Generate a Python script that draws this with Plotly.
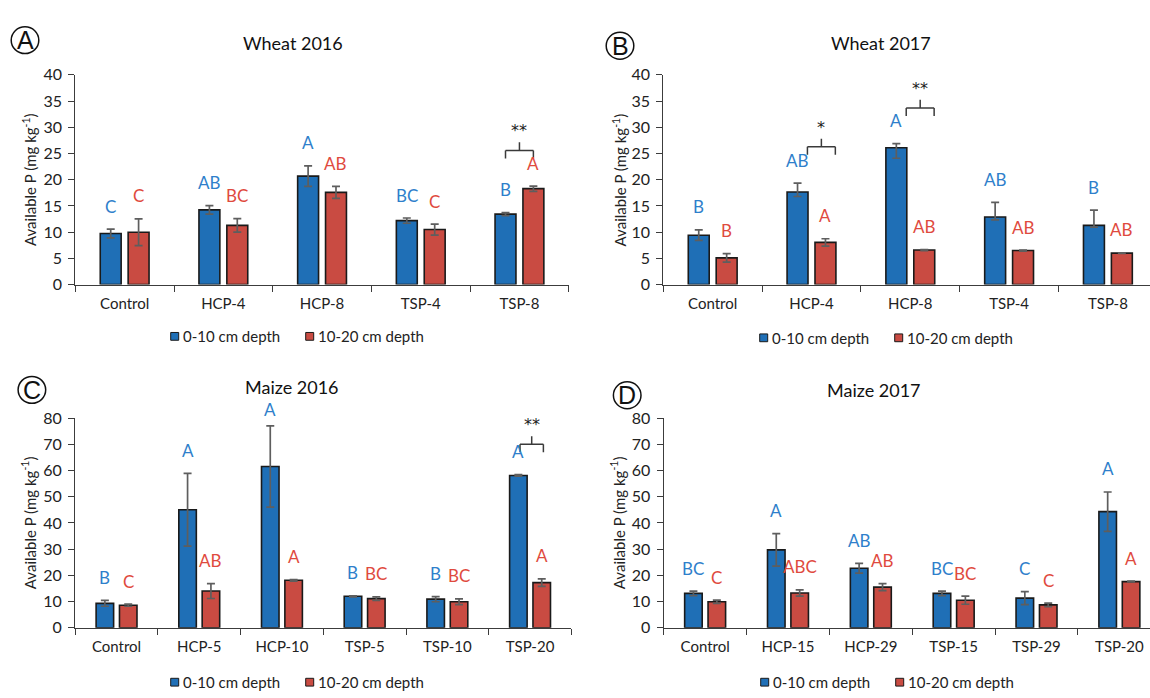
import plotly.graph_objects as go

# ---------------- data ----------------
wheat16_cats = ["Control", "HCP-4", "HCP-8", "TSP-4", "TSP-8"]
wheat16_top = [9.75, 14.25, 20.7, 12.2, 13.45]
wheat16_top_se_hi = [0.85, 0.8, 1.95, 0.5, 0.3]
wheat16_top_se_lo = [0.85, 0.8, 1.95, 0.5, 0.3]
wheat16_sub = [10.0, 11.3, 17.6, 10.5, 18.3]
wheat16_sub_se = [2.55, 1.3, 1.15, 1.05, 0.5]
wheat16_top_letters = ["C", "AB", "A", "BC", "B"]
wheat16_sub_letters = ["C", "BC", "AB", "C", "A"]
wheat16_sig = [("TSP-8", "**", 25.6)]

wheat17_cats = ["Control", "HCP-4", "HCP-8", "TSP-4", "TSP-8"]
wheat17_top = [9.4, 17.65, 26.1, 12.9, 11.3]
wheat17_top_se_hi = [1.05, 1.7, 0.8, 2.8, 2.9]
wheat17_top_se_lo = [0.95, 0.85, 2.0, 0.55, 0.35]
wheat17_sub = [5.1, 8.05, 6.6, 6.5, 6.0]
wheat17_sub_se = [0.8, 0.7, 0.1, 0.1, 0.05]
wheat17_top_letters = ["B", "AB", "A", "AB", "B"]
wheat17_sub_letters = ["B", "A", "AB", "AB", "AB"]
wheat17_sig = [("HCP-4", "*", 26.3), ("HCP-8", "**", 33.7)]

maize16_cats = ["Control", "HCP-5", "HCP-10", "TSP-5", "TSP-10", "TSP-20"]
maize16_top = [9.3, 45.0, 61.5, 12.0, 10.9, 58.1]
maize16_top_se_hi = [1.1, 13.9, 15.5, 0.2, 1.0, 0.3]
maize16_top_se_lo = [1.1, 13.9, 15.5, 0.2, 1.0, 0.3]
maize16_sub = [8.6, 14.0, 18.1, 11.1, 9.9, 17.2]
maize16_sub_se = [0.4, 2.85, 0.3, 0.7, 1.1, 1.4]
maize16_top_letters = ["B", "A", "A", "B", "B", "A"]
maize16_sub_letters = ["C", "AB", "A", "BC", "BC", "A"]
maize16_sig = [("TSP-20", "**", 70.0)]

maize17_cats = ["Control", "HCP-15", "HCP-29", "TSP-15", "TSP-29", "TSP-20"]
maize17_top = [13.1, 29.7, 22.7, 13.1, 11.3, 44.3]
maize17_top_se_hi = [0.9, 6.2, 1.85, 0.9, 2.5, 7.5]
maize17_top_se_lo = [0.9, 6.2, 1.85, 0.9, 2.5, 7.5]
maize17_sub = [9.9, 13.25, 15.5, 10.5, 8.7, 17.6]
maize17_sub_se = [0.6, 1.2, 1.35, 1.55, 0.7, 0.15]
maize17_top_letters = ["BC", "A", "AB", "BC", "C", "A"]
maize17_sub_letters = ["C", "ABC", "AB", "BC", "C", "A"]
maize17_sig = []

series_names = ["0-10 cm depth", "10-20 cm depth"]

# ---------------- style ----------------
W, H = 1150, 698
FONT = "Lato, Carlito, Calibri, sans-serif"
STAR_FONT = "DejaVu Sans, sans-serif"
BLUE, RED = "#1F6FB6", "#C94B42"
BLUE_TXT, RED_TXT = "#2F7FCB", "#DF4A3E"
INK = "#222222"
AXIS = "#3C3C3C"
ERR = "#5E5E5E"
BARGAP, GROUPGAP = 0.435, 0.25
HALF = (1 - BARGAP) / 4  # bar centre offset from category centre
LETTER_CEIL = 0.93       # letters never sit higher than this share of the y range (+ shift)


def px(x):
    return x / W


def py(y):
    return 1 - y / H


panels = [
    dict(tag="A", title="Wheat 2016", cats=wheat16_cats,
         top=wheat16_top, top_hi=wheat16_top_se_hi, top_lo=wheat16_top_se_lo,
         sub=wheat16_sub, sub_se=wheat16_sub_se,
         tl=wheat16_top_letters, sl=wheat16_sub_letters, sig=wheat16_sig, sig_shift=0.0,
         x0=75.3, x1=568.9, catw=98.7, y0=66.7, y1=282.3, ymax=40, dtick=5,
         title_xy=(293.4, 34.3), circ=(25.0, 31.0), ytitle_x=29.3, legend_xy=(295, 335.5)),
    dict(tag="B", title="Wheat 2017", cats=wheat17_cats,
         top=wheat17_top, top_hi=wheat17_top_se_hi, top_lo=wheat17_top_se_lo,
         sub=wheat17_sub, sub_se=wheat17_sub_se,
         tl=wheat17_top_letters, sl=wheat17_sub_letters, sig=wheat17_sig, sig_shift=0.1,
         x0=663.3, x1=None, catw=98.8, y0=66.7, y1=282.3, ymax=40, dtick=5,
         title_xy=(881.0, 34.0), circ=(620.0, 36.7), ytitle_x=619.7, legend_xy=(884, 337)),
    dict(tag="C", title="Maize 2016", cats=maize16_cats,
         top=maize16_top, top_hi=maize16_top_se_hi, top_lo=maize16_top_se_lo,
         sub=maize16_sub, sub_se=maize16_sub_se,
         tl=maize16_top_letters, sl=maize16_sub_letters, sig=maize16_sig, sig_shift=0.02,
         x0=75.2, x1=571.4, catw=82.7, y0=419.5, y1=635.0, ymax=80, dtick=10,
         title_xy=(292.3, 388.0), circ=(31.9, 390.5), ytitle_x=29.3, legend_xy=(295, 691)),
    dict(tag="D", title="Maize 2017", cats=maize17_cats,
         top=maize17_top, top_hi=maize17_top_se_hi, top_lo=maize17_top_se_lo,
         sub=maize17_sub, sub_se=maize17_sub_se,
         tl=maize17_top_letters, sl=maize17_sub_letters, sig=maize17_sig, sig_shift=0.0,
         x0=663.7, x1=None, catw=82.85, y0=419.5, y1=635.0, ymax=80, dtick=10,
         title_xy=(873.9, 390.7), circ=(627.2, 396.0), ytitle_x=618.3, legend_xy=(885, 691)),
]

fig = go.Figure()
annotations = []
shapes = []

for k, p in enumerate(panels, start=1):
    sfx = "" if k == 1 else str(k)
    xa, ya = "x" + sfx, "y" + sfx
    n = len(p["cats"])
    right = p["x1"] if p["x1"] is not None else W
    xr_hi = -0.5 + (right - p["x0"]) / p["catw"]

    fig.add_trace(go.Bar(
        x=p["cats"], y=p["top"], name=series_names[0], xaxis=xa, yaxis=ya,
        marker=dict(color=BLUE, line=dict(color="#1A1A1A", width=1.6)),
        error_y=dict(type="data", symmetric=False, array=p["top_hi"], arrayminus=p["top_lo"],
                     color=ERR, thickness=1.7, width=4),
        showlegend=False, cliponaxis=False))
    fig.add_trace(go.Bar(
        x=p["cats"], y=p["sub"], name=series_names[1], xaxis=xa, yaxis=ya,
        marker=dict(color=RED, line=dict(color="#1A1A1A", width=1.6)),
        error_y=dict(type="data", array=p["sub_se"], color=ERR, thickness=1.7, width=4),
        showlegend=False, cliponaxis=False))

    fig.update_layout(**{
        "xaxis" + sfx: dict(
            domain=[px(p["x0"]), px(right)], anchor=ya, type="category",
            range=[-0.5, xr_hi], showline=True, linecolor=AXIS, linewidth=1.3,
            ticks="outside", tickson="boundaries", ticklen=6, tickcolor=AXIS, tickwidth=1.3,
            showgrid=False, zeroline=False, fixedrange=True, ticklabelstandoff=5,
            tickfont=dict(family=FONT, size=15, color=INK)),
        "yaxis" + sfx: dict(
            domain=[py(p["y1"]), py(p["y0"])], anchor=xa, range=[0, p["ymax"]],
            dtick=p["dtick"], showline=True, linecolor=AXIS, linewidth=1.3,
            ticks="outside", ticklen=6, tickcolor=AXIS, tickwidth=1.3,
            showgrid=False, zeroline=False, fixedrange=True, ticklabelstandoff=3,
            tickfont=dict(family=FONT, size=16, color=INK)),
    })

    # letter groupings above each bar
    ceil = LETTER_CEIL * p["ymax"]
    for i in range(n):
        annotations.append(dict(
            x=i - HALF, y=min(p["top"][i] + p["top_hi"][i], ceil), xref=xa, yref=ya,
            text=p["tl"][i], showarrow=False, yanchor="middle", yshift=23,
            font=dict(family=FONT, size=17, color=BLUE_TXT)))
        annotations.append(dict(
            x=i + HALF, y=min(p["sub"][i] + p["sub_se"][i], ceil), xref=xa, yref=ya,
            text=p["sl"][i], showarrow=False, yanchor="middle", yshift=23,
            font=dict(family=FONT, size=17, color=RED_TXT)))

    # depth-difference brackets
    unit_px = (p["y1"] - p["y0"]) / p["ymax"]
    leg = 8.3 / unit_px
    for cat, mark, level in p["sig"]:
        c = p["cats"].index(cat) + p["sig_shift"]
        xl, xr = c - HALF, c + HALF
        line = dict(color="#3A3A3A", width=1.5)
        shapes.append(dict(type="line", xref=xa, yref=ya, x0=xl, x1=xr, y0=level, y1=level, line=line))
        shapes.append(dict(type="line", xref=xa, yref=ya, x0=xl, x1=xl, y0=level, y1=level - leg, line=line))
        shapes.append(dict(type="line", xref=xa, yref=ya, x0=xr, x1=xr, y0=level, y1=level - leg, line=line))
        shapes.append(dict(type="line", xref=xa, yref=ya, x0=c, x1=c, y0=level, y1=level + leg, line=line))
        annotations.append(dict(
            x=c, y=level + leg, xref=xa, yref=ya, text=mark, showarrow=False,
            yanchor="bottom", yshift=0, font=dict(family=STAR_FONT, size=16, color="#1A1A1A")))

    # panel title
    tx, ty = p["title_xy"]
    annotations.append(dict(x=px(tx), y=py(ty), xref="paper", yref="paper", text=p["title"],
                            showarrow=False, xanchor="center", yanchor="middle",
                            font=dict(family=FONT, size=18, color="#111111")))
    # y-axis title
    annotations.append(dict(x=px(p["ytitle_x"]), y=py((p["y0"] + p["y1"]) / 2), xref="paper",
                            yref="paper", text="Available P (mg kg<sup>-1</sup>)", textangle=-90,
                            showarrow=False, xanchor="center", yanchor="middle",
                            font=dict(family=FONT, size=15, color=INK)))
    # circled panel letter
    cx, cy = p["circ"]
    r = 13.8
    shapes.append(dict(type="circle", xref="paper", yref="paper",
                       x0=px(cx - r), x1=px(cx + r), y0=py(cy + r), y1=py(cy - r),
                       line=dict(color="#111111", width=1.5)))
    annotations.append(dict(x=px(cx), y=py(cy), xref="paper", yref="paper", text=p["tag"],
                            showarrow=False, xanchor="center", yanchor="middle",
                            font=dict(family="Liberation Sans, Arial, sans-serif", size=25,
                                      color="#111111")))
    # legend row
    lx, ly = p["legend_xy"]
    for col, name, off in [(BLUE, series_names[0], -124.3), (RED, series_names[1], 10.7)]:
        sq = 8
        shapes.append(dict(type="rect", xref="paper", yref="paper",
                           x0=px(lx + off), x1=px(lx + off + sq),
                           y0=py(ly + sq / 2), y1=py(ly - sq / 2),
                           fillcolor=col, line=dict(color="#1A1A1A", width=1)))
        annotations.append(dict(x=px(lx + off + sq + 2), y=py(ly), xref="paper", yref="paper",
                                text=name, showarrow=False, xanchor="left", yanchor="middle",
                                font=dict(family=FONT, size=15, color=INK)))

fig.update_layout(
    width=W, height=H, autosize=False,
    margin=dict(l=0, r=0, t=0, b=0),
    paper_bgcolor="white", plot_bgcolor="white",
    barmode="group", bargap=BARGAP, bargroupgap=GROUPGAP,
    showlegend=False,
    annotations=annotations, shapes=shapes,
)

fig.write_html("out.html")
